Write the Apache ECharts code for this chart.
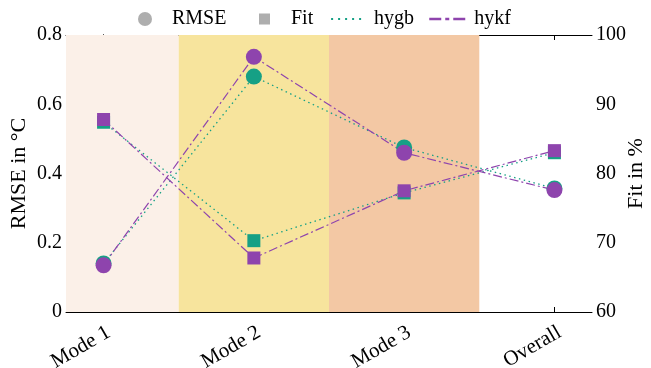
<!DOCTYPE html>
<html>
<head>
<meta charset="utf-8">
<script src="https://cdn.jsdelivr.net/npm/echarts@6/dist/echarts.min.js"></script>
<style>html,body{margin:0;padding:0;background:#fff}#c{width:651px;height:368px}</style>
</head>
<body>
<div id="c"></div>
<script>
// ---- data ----
var categories = ['Mode 1', 'Mode 2', 'Mode 3', 'Overall'];
var rmseHygb = [0.14, 0.68, 0.475, 0.357];
var rmseHykf = [0.135, 0.737, 0.46, 0.352];
var fitHygb = [87.4, 70.3, 77.2, 83.0];
var fitHykf = [87.8, 67.8, 77.5, 83.3];
var rmseTicks = [0, 0.2, 0.4, 0.6, 0.8];
var fitTicks = [60, 70, 80, 90, 100];
var bandCategories = ['Mode 1', 'Mode 2', 'Mode 3'];

// ---- styles ----
var TEAL = '#16a085', PURPLE = '#8e44ad', GRAY = '#9a9a9a';
var bandColors = ['#fbf0e8', '#f7e49d', '#f3c8a4'];
var FONT = '"Liberation Serif", "DejaVu Serif", serif';
var XMIN = -0.25, XMAX = 3.25;

function pts(arr) { return arr.map(function (v, i) { return [i, v]; }); }
var catIdx = categories.map(function (c, i) { return i; });

var bands = bandCategories.map(function (c, k) {
  var i = categories.indexOf(c);
  return [{ xAxis: Math.max(XMIN, i - 0.5), itemStyle: { color: bandColors[k] } },
          { xAxis: Math.min(XMAX, i + 0.5) }];
});

var chart = echarts.init(document.getElementById('c'), null, { renderer: 'canvas' });
var txt = { fontFamily: FONT, fontSize: 20, color: '#000' };
var nameTxt = { fontFamily: FONT, fontSize: 22, color: '#000' };

function legend(name, left, w, h, pad, extra) {
  var l = {
    data: [name], left: left, top: 4, itemWidth: w, itemHeight: h,
    selectedMode: false,
    textStyle: Object.assign({}, txt, { padding: [0, 0, 0, pad] })
  };
  return Object.assign(l, extra || {});
}

chart.setOption({
  animation: false,
  grid: { left: 66, right: 59, top: 35, bottom: 56, containLabel: false, outerBoundsMode: 'none' },
  legend: [
    legend('RMSE', 133, 14, 14, 15),
    legend('Fit', 254, 11, 11, 16),
    legend('hygb', 325, 35, 14, 3, { itemStyle: { opacity: 0 }, lineStyle: { width: 2.2, type: [2, 5], opacity: 1 } }),
    legend('hykf', 423, 40, 14, 0, { itemStyle: { opacity: 0 }, lineStyle: { width: 2.5, type: [12, 4, 4, 4], opacity: 1 } })
  ],
  xAxis: [{
    type: 'value', min: XMIN, max: XMAX, position: 'bottom',
    splitLine: { show: false },
    axisLine: { lineStyle: { color: '#000', width: 1 } },
    axisTick: { inside: true, length: 5, customValues: catIdx, lineStyle: { color: '#000' } },
    axisLabel: Object.assign({}, txt, {
      fontSize: 21,
      customValues: catIdx, rotate: 30, margin: 10, verticalAlign: 'top',
      formatter: function (v) { return categories[Math.round(v)]; }
    })
  }, {
    type: 'value', min: XMIN, max: XMAX, position: 'top',
    splitLine: { show: false },
    axisLine: { lineStyle: { color: '#000', width: 1 } },
    axisTick: { inside: true, length: 5, customValues: catIdx, lineStyle: { color: '#000' } },
    axisLabel: { show: false }
  }],
  yAxis: [{
    type: 'value', min: 0, max: 0.8, interval: 0.2, position: 'left',
    name: 'RMSE in °C', nameLocation: 'middle', nameGap: 36, nameMoveOverlap: false,
    nameTextStyle: nameTxt,
    splitLine: { show: false },
    axisLine: { show: true, lineStyle: { color: '#000', width: 1 } },
    axisTick: { inside: true, length: 5, lineStyle: { color: '#000' } },
    axisLabel: Object.assign({}, txt, { margin: 4, formatter: function (v) { return String(+v.toFixed(1)); } })
  }, {
    type: 'value', min: 60, max: 100, interval: 10, position: 'right',
    name: 'Fit in %', nameLocation: 'middle', nameGap: 33, nameMoveOverlap: false,
    nameTextStyle: nameTxt,
    splitLine: { show: false },
    axisLine: { show: true, lineStyle: { color: '#000', width: 1 } },
    axisTick: { inside: true, length: 5, lineStyle: { color: '#000' } },
    axisLabel: Object.assign({}, txt, { margin: 4 })
  }],
  series: [
    // background bands
    { type: 'line', data: [], z: 0, silent: true, markArea: { silent: true, data: bands } },
    // legend-only series
    { name: 'RMSE', type: 'scatter', data: [], symbol: 'circle', itemStyle: { color: GRAY } },
    { name: 'Fit', type: 'scatter', data: [], symbol: 'rect', itemStyle: { color: GRAY } },
    { name: 'hygb', type: 'line', data: [], symbol: 'none', lineStyle: { color: TEAL, type: [2, 5] }, itemStyle: { color: TEAL } },
    { name: 'hykf', type: 'line', data: [], symbol: 'none', lineStyle: { color: PURPLE, type: [12, 4, 4, 4] }, itemStyle: { color: PURPLE } },
    // lines
    { type: 'line', yAxisIndex: 0, data: pts(rmseHygb), symbol: 'none', z: 2, silent: true, lineStyle: { color: TEAL, width: 1.3, type: [1.5, 3.5] } },
    { type: 'line', yAxisIndex: 1, data: pts(fitHygb), symbol: 'none', z: 2, silent: true, lineStyle: { color: TEAL, width: 1.3, type: [1.5, 3.5] } },
    { type: 'line', yAxisIndex: 0, data: pts(rmseHykf), symbol: 'none', z: 2, silent: true, lineStyle: { color: PURPLE, width: 1.2, type: [9, 3, 2, 3] } },
    { type: 'line', yAxisIndex: 1, data: pts(fitHykf), symbol: 'none', z: 2, silent: true, lineStyle: { color: PURPLE, width: 1.2, type: [9, 3, 2, 3] } },
    // markers
    { type: 'scatter', yAxisIndex: 0, data: pts(rmseHygb), symbol: 'circle', symbolSize: 16, z: 3, itemStyle: { color: TEAL, opacity: 1 } },
    { type: 'scatter', yAxisIndex: 1, data: pts(fitHygb), symbol: 'rect', symbolSize: 13, z: 3, itemStyle: { color: TEAL, opacity: 1 } },
    { type: 'scatter', yAxisIndex: 0, data: pts(rmseHykf), symbol: 'circle', symbolSize: 16, z: 4, itemStyle: { color: PURPLE, opacity: 1 } },
    { type: 'scatter', yAxisIndex: 1, data: pts(fitHykf), symbol: 'rect', symbolSize: 13, z: 4, itemStyle: { color: PURPLE, opacity: 1 } }
  ]
});
</script>
</body>
</html>
